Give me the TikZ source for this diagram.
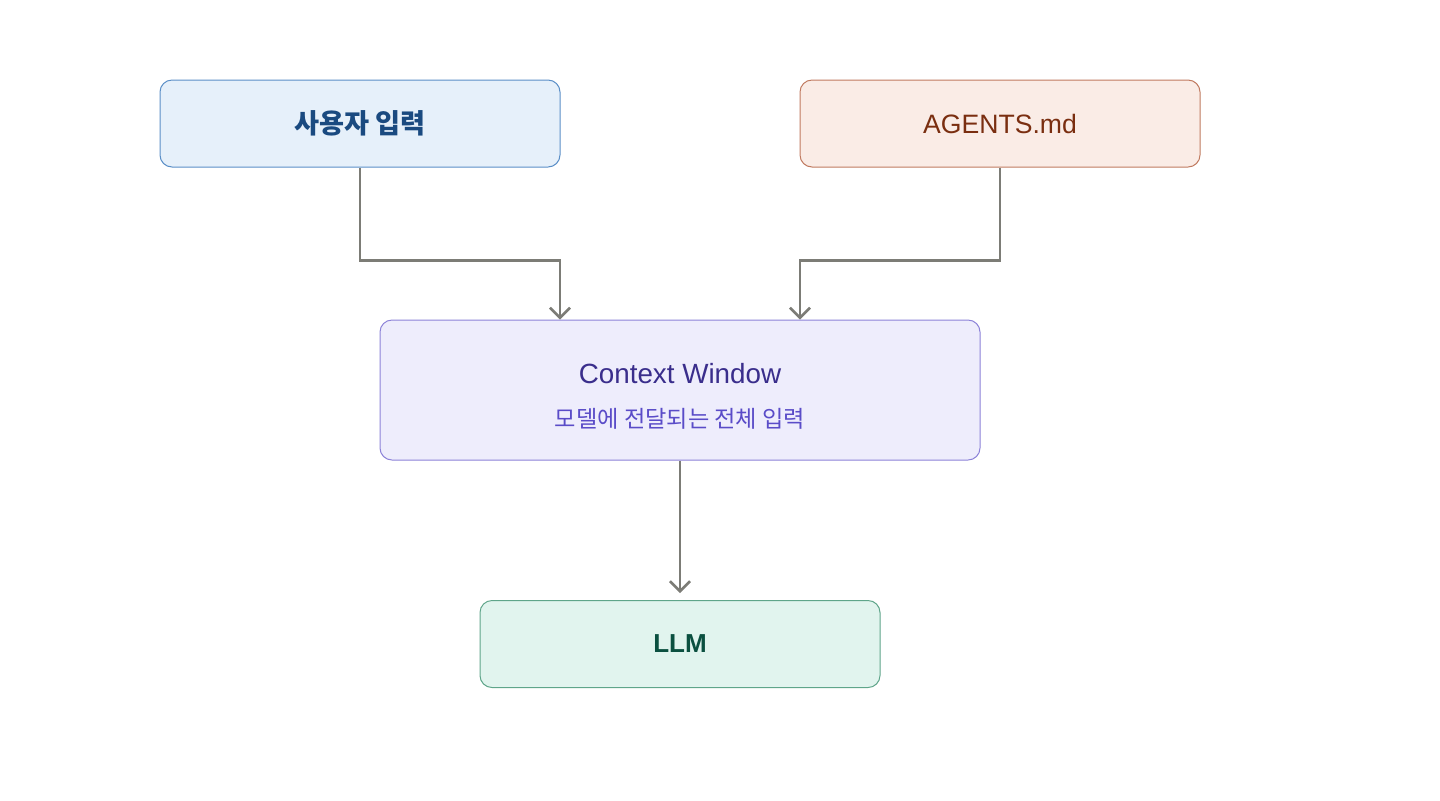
\documentclass[tikz,border=0pt]{standalone}
\usepackage{fontspec}
\setmainfont{Liberation Sans}
\newfontfamily\kr{Noto Sans CJK KR}
\usetikzlibrary{arrows.meta}

\definecolor{usrfill}{HTML}{E6F0FA}
\definecolor{usrline}{HTML}{5B8FC7}
\definecolor{usrtext}{HTML}{1A4A80}
\definecolor{agfill}{HTML}{FAECE6}
\definecolor{agline}{HTML}{C07A60}
\definecolor{agtext}{HTML}{7A2E10}
\definecolor{ctxfill}{HTML}{EEEDFC}
\definecolor{ctxline}{HTML}{8C82D8}
\definecolor{ctxtext}{HTML}{3A2E8C}
\definecolor{ctxsub}{HTML}{5A4CC8}
\definecolor{llmfill}{HTML}{E1F4EE}
\definecolor{llmline}{HTML}{5FA58A}
\definecolor{llmtext}{HTML}{0B5040}
\definecolor{flowgray}{HTML}{7C7C76}

\begin{document}
\begin{tikzpicture}[x=0.5pt,y=-0.5pt,
  box/.style={rectangle,rounded corners=6pt,line width=0.5pt,
    minimum width=200pt,minimum height=43.5pt,inner sep=0pt},
  flow/.style={draw=flowgray,line width=1.3pt,
    -{Straight Barb[length=5pt,width=10pt,line width=1.3pt]}}]
  \useasboundingbox (0,0) rectangle (1440,800);

  \node[box,fill=usrfill,draw=usrline,text=usrtext,font=\kr\bfseries\fontsize{13.6}{15}\selectfont]
    (usr) at (360,123.5) {사용자 입력};
  \node[box,fill=agfill,draw=agline,text=agtext,font=\fontsize{13.3}{16}\selectfont]
    (agents) at (1000,123.5) {AGENTS.md};
  \node[box,fill=ctxfill,draw=ctxline,minimum width=300pt,minimum height=70pt]
    (ctx) at (680,390) {};
  \node[text=ctxtext,font=\fontsize{13.9}{16}\selectfont] (ctxtitle) at (680,374) {Context Window};
  \node[text=ctxsub,font=\kr\fontsize{11.6}{13}\selectfont] (ctxnote) at (680,419) {모델에 전달되는 전체 입력};
  \node[box,fill=llmfill,draw=llmline,text=llmtext,font=\bfseries\fontsize{13}{16}\selectfont]
    (llm) at (680,644) {LLM};

  \draw[flow] (usr.south) -- ++(0,93) -| ([xshift=-60pt]ctx.north);
  \draw[flow] (agents.south) -- ++(0,93) -| ([xshift=60pt]ctx.north);
  \draw[flow,shorten >=3.5pt] (ctx.south) -- (llm.north);
\end{tikzpicture}
\end{document}
